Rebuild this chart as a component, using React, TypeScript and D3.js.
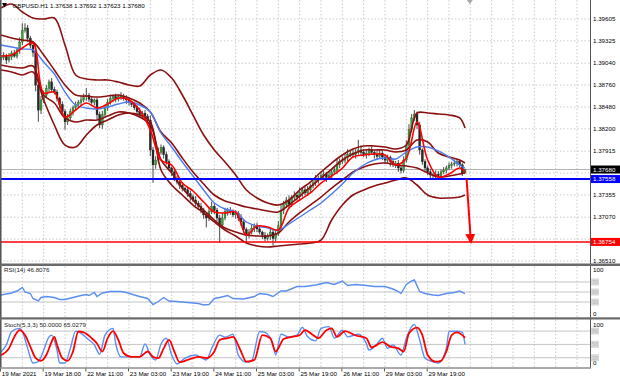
import React from 'react';
import * as d3 from 'd3';

const W = 620, H = 382;

// ---------- price data (H1 bars) ----------
const firstOpen = 1.3908;
const closes = [
  1.3911,1.3914,1.3908,1.3912,1.3917,1.3913,1.3921,1.3931,1.3946,1.3949,1.3936,1.3927,1.3918,1.3876,1.3844,1.3857,1.3863,1.3872,1.3880,1.3870,1.3867,1.3859,1.3851,1.3842,1.3829,
  1.3834,1.3842,1.3847,1.3851,1.3854,1.3857,1.3861,1.3863,1.3858,1.3854,1.3857,1.3838,1.3825,1.3838,1.3847,1.3854,1.3859,1.3861,1.3858,1.3861,1.3862,1.3859,1.3857,1.3854,1.3851,
  1.3847,1.3842,1.3838,1.3840,1.3836,1.3831,1.3793,1.3774,1.3780,1.3790,1.3796,1.3787,1.3778,1.3770,1.3765,1.3757,1.3752,1.3748,1.3744,1.3742,1.3737,1.3733,1.3729,1.3725,1.3721,
  1.3716,1.3710,1.3706,1.3714,1.3721,1.3716,1.3706,1.3697,1.3706,1.3714,1.3716,1.3714,1.3710,1.3712,1.3706,1.3701,1.3691,1.3684,1.3688,1.3693,1.3696,1.3692,1.3688,1.3684,1.3680,
  1.3683,1.3688,1.3680,1.3686,1.3696,1.3716,1.3723,1.3729,1.3724,1.3732,1.3735,1.3733,1.3739,1.3742,1.3738,1.3742,1.3747,1.3751,1.3755,1.3757,1.3760,1.3762,1.3758,1.3761,1.3765,
  1.3767,1.3774,1.3778,1.3780,1.3783,1.3787,1.3789,1.3787,1.3790,1.3793,1.3790,1.3787,1.3789,1.3793,1.3790,1.3787,1.3785,1.3789,1.3784,1.3780,1.3783,1.3778,1.3774,1.3776,1.3770,
  1.3767,1.3780,1.3799,1.3819,1.3834,1.3839,1.3825,1.3793,1.3778,1.3770,1.3765,1.3761,1.3760,1.3762,1.3760,1.3765,1.3767,1.3770,1.3773,1.3775,1.3776,1.3778,1.3774,1.37638,1.37680,
];
// wick lengths in pips above max(open,close) and below min(open,close)
const hiWick = [
  3,4,2,5,3,4,3,6,9,6,4,3,5,3,4,5,6,4,3,5,4,3,2,4,3,
  5,4,3,4,3,5,4,9,3,4,2,3,4,5,3,4,5,3,4,3,5,3,4,3,2,
  4,3,5,3,4,3,6,4,5,6,4,3,4,3,2,4,3,3,4,2,3,4,3,5,3,
  4,3,2,5,6,4,3,4,6,5,3,4,3,4,3,5,2,3,4,5,3,4,3,2,4,
  3,5,3,4,6,8,5,4,6,3,5,4,6,3,4,5,3,4,6,3,5,4,3,5,4,
  6,8,4,5,6,7,3,5,4,13,6,4,5,3,4,3,5,4,3,3,4,3,5,3,4,
  3,5,6,7,5,5,3,4,2,3,3,4,3,5,4,3,4,3,4,3,5,4,3,2,1,
];
const loWick = [
  4,3,5,3,4,2,3,5,4,3,5,4,6,8,15,5,4,3,5,4,3,4,5,4,10,
  4,3,5,4,3,4,3,5,4,3,4,6,4,5,3,4,3,5,4,3,4,3,5,4,3,
  3,4,3,5,4,5,8,23,5,4,3,5,4,3,5,4,3,5,4,3,4,5,3,4,5,
  4,5,12,4,3,5,4,23,4,3,5,4,3,5,4,5,4,9,4,3,5,4,3,5,4,
  3,5,9,4,3,4,5,4,6,4,3,5,4,6,3,4,5,3,4,5,3,4,6,3,4,
  3,5,4,3,4,5,3,4,5,3,4,3,5,4,3,5,4,3,4,5,4,6,3,4,5,
  4,3,3,4,3,4,5,6,4,5,4,5,3,4,3,4,3,4,3,4,3,4,3,4,1,
];

// ---------- indicator lines, read every 4 bars ----------
const sampleBars = [...d3.range(0, 173, 4), 174];
const fastMA = [1.39132,1.39145,1.39234,1.39298,1.38659,1.38671,1.38352,1.38441,1.38531,1.38467,1.38518,1.38595,1.38569,1.38441,1.38185,1.37802,1.37738,1.37507,1.37405,1.37264,1.37137,1.37124,1.37137,1.36842,1.36957,1.36945,1.36906,1.37188,1.37290,1.37380,1.37507,1.37597,1.37699,1.37840,1.37866,1.37878,1.37866,1.37738,1.37827,1.38288,1.37802,1.37584,1.37623,1.37699,1.37648];
const slowMA = [1.39272,1.39247,1.39221,1.39209,1.39055,1.38902,1.38671,1.38505,1.38467,1.38454,1.38479,1.38518,1.38543,1.38505,1.38416,1.38147,1.37968,1.37776,1.37597,1.37418,1.37252,1.37175,1.37137,1.37009,1.36957,1.36932,1.36906,1.36983,1.37073,1.37162,1.37252,1.37367,1.37495,1.37635,1.37738,1.37802,1.37827,1.37814,1.37904,1.37968,1.37968,1.37917,1.37840,1.37738,1.37699];
const outerUpper = [1.39746,1.39797,1.39695,1.39618,1.39605,1.39618,1.39272,1.38889,1.38838,1.38825,1.38825,1.38799,1.38761,1.38748,1.38889,1.38953,1.38850,1.38633,1.38377,1.38121,1.37930,1.37776,1.37610,1.37418,1.37316,1.37252,1.37226,1.37290,1.37418,1.37520,1.37648,1.37763,1.37866,1.37942,1.37981,1.37981,1.37968,1.37942,1.37993,1.38403,1.38403,1.38390,1.38377,1.38339,1.38211];
const outerLower = [1.38953,1.38927,1.38889,1.38927,1.38569,1.38249,1.37993,1.37968,1.38121,1.38249,1.38313,1.38377,1.38403,1.38377,1.38288,1.37674,1.37482,1.37354,1.37226,1.37124,1.37009,1.36906,1.36830,1.36740,1.36702,1.36689,1.36702,1.36714,1.36727,1.36740,1.36778,1.37034,1.37226,1.37354,1.37418,1.37469,1.37507,1.37546,1.37571,1.37482,1.37354,1.37316,1.37316,1.37328,1.37354];
const innerUpper = [1.39400,1.39362,1.39336,1.39311,1.39145,1.38953,1.38761,1.38633,1.38620,1.38607,1.38620,1.38633,1.38595,1.38531,1.38416,1.38160,1.38019,1.37827,1.37648,1.37495,1.37354,1.37277,1.37239,1.37200,1.37175,1.37149,1.37137,1.37226,1.37341,1.37456,1.37571,1.37686,1.37802,1.37878,1.37930,1.37930,1.37930,1.37904,1.37930,1.38057,1.38032,1.37891,1.37840,1.37802,1.37763];
const innerLower = [1.39017,1.38991,1.38978,1.39004,1.38633,1.38531,1.38339,1.38288,1.38313,1.38313,1.38364,1.38416,1.38403,1.38352,1.38249,1.37802,1.37635,1.37443,1.37290,1.37162,1.37034,1.36932,1.36881,1.36842,1.36830,1.36830,1.36868,1.37009,1.37124,1.37226,1.37328,1.37443,1.37546,1.37648,1.37712,1.37750,1.37763,1.37738,1.37725,1.37699,1.37635,1.37584,1.37597,1.37623,1.37635];

// ---------- RSI(14) ----------
const rsiBars = [0,2,4,6,8,9,11,12,14,15,17,20,22,24,27,30,32,33,35,36,38,41,45,47,50,52,55,57,59,61,63,66,70,74,76,78,80,82,85,87,91,95,97,100,102,105,107,111,114,118,122,125,128,130,133,137,140,144,147,149,150,152,154,155,157,159,162,164,167,170,172,174];
const rsiValues = [44,46,48,52,59,50,47,37,32,39,41,39,35,35,39,43,45,43,49,41,48,51,51,49,44,41,37,25,31,39,32,31,29,27,24,25,37,39,43,37,36,41,47,45,41,52,52,61,61,64,69,65,72,63,65,63,61,61,56,51,47,65,72,74,51,47,44,43,47,49,52,46.8];

// ---------- Stochastic(5,3,3) ----------
const stochKBars = [0,2,4,7,8,10,12,14,16,18,19,21,22,24,26,28,30,33,35,37,39,42,43,45,48,52,54,56,58,60,62,64,66,69,73,77,79,82,84,87,89,92,94,97,99,102,103,105,108,111,113,115,118,120,123,125,128,130,134,137,138,141,143,145,147,150,152,154,155,157,159,162,164,167,168,171,173,174];
const stochK = [33,49,79,86,79,41,8,11,37,67,71,37,8,8,41,80,75,60,49,28,71,86,52,22,22,22,51,26,15,51,64,26,6,19,26,15,41,71,66,73,26,10,13,79,77,49,26,73,67,71,88,67,58,86,90,64,82,67,73,52,37,51,64,41,49,26,64,90,95,60,19,11,8,41,79,80,77,50];
const stochDBars = [0,3,5,7,9,11,13,15,17,19,20,21,23,25,27,29,31,34,36,38,40,42,44,46,49,52,55,57,59,61,63,65,67,70,74,77,80,82,85,87,90,92,95,98,101,103,106,109,112,114,117,119,122,124,126,129,133,137,139,141,143,146,149,151,153,156,158,160,163,165,167,169,171,174];
const stochD = [26,41,67,82,71,45,19,13,26,56,67,49,19,13,34,79,77,64,52,34,64,80,60,30,22,22,34,22,19,41,60,34,10,15,22,19,34,60,64,67,34,11,15,71,64,34,62,67,71,82,71,64,82,86,67,80,70,64,43,49,55,45,41,34,75,88,71,26,11,13,34,71,77,65];

// ---------- axes / annotations ----------
const priceTicks = [1.39605,1.39325,1.39040,1.38760,1.38480,1.38200,1.37915,1.37635,1.37355,1.37070,1.36790,1.36510];
const priceDomain = [1.36510, 1.39605];
const timeLabels = ['19 Mar 2021','19 Mar 18:00','22 Mar 11:00','23 Mar 03:00','23 Mar 19:00','24 Mar 11:00','25 Mar 03:00','25 Mar 19:00','26 Mar 11:00','29 Mar 03:00','29 Mar 19:00'];
const barsPerLabel = 16;
const barsPerGrid = 8;
const rsiLevels = [70, 50, 30];
const stochLevels = [80, 50, 20];
const bidPrice = 1.37680;
const supportLevel = 1.37558;
const targetLevel = 1.36754;
const header = { symbol: 'GBPUSD.H1', o: '1.37638', h: '1.37692', l: '1.37623', c: '1.37680' };
const rsiTitle = 'RSI(14) 46.8076';
const stochTitle = 'Stoch(5,3,3) 50.0000 65.0279';
const arrowFrom = { bar: 174.6, price: supportLevel };
const arrowTo = { bar: 176.2, price: targetLevel };

const FONT = '"Liberation Sans", Arial, sans-serif';

export default function App() {
  const plotRight = 590;
  const mainTop = 0, mainBottom = 263;
  const rsiTop = 266.5, rsiBottom = 317;
  const stTop = 320, stBottom = 367.5;

  const x = d3.scaleLinear().domain([0, 220]).range([1, 1 + 220 * 2.6667]);
  const y = d3.scaleLinear().domain(priceDomain).range([261, 19]);
  const yR = d3.scaleLinear().domain([0, 100]).range([317, 267]);
  const yS = d3.scaleLinear().domain([0, 100]).range([366.6, 322.2]);

  const candles = closes.map((c, i) => {
    const o = i === 0 ? firstOpen : closes[i - 1];
    const hi = Math.max(o, c) + hiWick[i] * 0.0001;
    const lo = Math.min(o, c) - loWick[i] * 0.0001;
    return { i, o, c, hi, lo };
  });

  const smooth = d3.line<[number, number]>().x(d => x(d[0])).y(d => y(d[1])).curve(d3.curveCatmullRom.alpha(0.5));
  const pts = (arr: number[]) => sampleBars.map((b, k) => [b, arr[k]] as [number, number]);

  const rsiLine = d3.line<number>().x((_, k) => x(rsiBars[k])).y(v => yR(v)).curve(d3.curveLinear);
  const kLine = d3.line<number>().x((_, k) => x(stochKBars[k])).y(v => yS(v)).curve(d3.curveMonotoneX);
  const dLine = d3.line<number>().x((_, k) => x(stochDBars[k])).y(v => yS(v)).curve(d3.curveMonotoneX);

  const gridBars = d3.range(0, 220, barsPerGrid).filter(b => x(b) < plotRight - 2);
  const gridColor = '#c9c9c9';

  const boxLabels = [
    { p: bidPrice, bg: '#000000', fg: '#ffffff' },
    { p: supportLevel, bg: '#0000ff', fg: '#ffffff' },
    { p: targetLevel, bg: '#ff0000', fg: '#ffffff' },
  ];
  const visibleTicks = priceTicks.filter(t => boxLabels.every(b => Math.abs(y(t) - y(b.p)) > 7));

  const ax = x(arrowFrom.bar), ay = y(arrowFrom.price);
  const bx = x(arrowTo.bar), by = y(arrowTo.price);

  return (
    <svg width={W} height={H} style={{ position: 'absolute', left: 0, top: 0, background: '#fff' }} fontFamily={FONT}>
      <defs>
        <clipPath id="mainClip"><rect x={0} y={mainTop} width={plotRight} height={mainBottom - mainTop} /></clipPath>
        <marker id="arrowHead" viewBox="0 0 10 10" refX="8" refY="5" markerWidth="5" markerHeight="5" orient="auto">
          <path d="M0,0 L10,5 L0,10 z" fill="#ff0000" />
        </marker>
      </defs>
      <rect x={0} y={0} width={W} height={H} fill="#ffffff" />

      {/* vertical grid */}
      {gridBars.map(b => (
        <g key={'vg' + b}>
          <line x1={x(b)} x2={x(b)} y1={mainTop} y2={mainBottom} stroke={gridColor} strokeDasharray="1.5 2" />
          <line x1={x(b)} x2={x(b)} y1={rsiTop} y2={rsiBottom} stroke={gridColor} strokeDasharray="1.5 2" />
          <line x1={x(b)} x2={x(b)} y1={stTop} y2={stBottom} stroke={gridColor} strokeDasharray="1.5 2" />
        </g>
      ))}
      {/* horizontal price grid */}
      {priceTicks.map(t => (
        <line key={'hg' + t} x1={0} x2={plotRight} y1={y(t)} y2={y(t)} stroke={gridColor} strokeDasharray="1.5 2" />
      ))}
      {/* current price line */}
      <line x1={0} x2={plotRight} y1={y(bidPrice)} y2={y(bidPrice)} stroke="#b4b4b4" strokeWidth={1} />

      <g clipPath="url(#mainClip)">
        {/* candles */}
        {candles.map(d => {
          const cx = x(d.i);
          const bull = d.c >= d.o;
          const top = y(Math.max(d.o, d.c));
          const bot = y(Math.min(d.o, d.c));
          return (
            <g key={'c' + d.i}>
              <line x1={cx} x2={cx} y1={y(d.hi)} y2={y(d.lo)} stroke="#333333" strokeWidth={0.9} />
              <rect x={cx - 0.95} y={top} width={1.9} height={Math.max(0.8, bot - top)}
                fill={bull ? '#3f9f3a' : '#262626'} stroke={bull ? '#2d5f2a' : '#1a1a1a'} strokeWidth={0.4} />
            </g>
          );
        })}
        {/* bands */}
        {[outerUpper, outerLower, innerUpper, innerLower].map((arr, k) => (
          <path key={'bb' + k} d={smooth(pts(arr)) || ''} fill="none" stroke="#8b1010" strokeWidth={1.6} />
        ))}
        <path d={smooth(pts(slowMA)) || ''} fill="none" stroke="#4a7cf0" strokeWidth={1.4} />
        <path d={smooth(pts(fastMA)) || ''} fill="none" stroke="#ff0000" strokeWidth={1.6} />
      </g>

      {/* horizontal levels */}
      <line x1={0} x2={plotRight} y1={y(supportLevel)} y2={y(supportLevel)} stroke="#0000ff" strokeWidth={2} />
      <line x1={0} x2={plotRight} y1={y(targetLevel)} y2={y(targetLevel)} stroke="#ff0000" strokeWidth={1.5} />
      {/* arrow */}
      <line x1={ax} y1={ay} x2={bx} y2={by} stroke="#ff0000" strokeWidth={2} markerEnd="url(#arrowHead)" />

      {/* chart shift marker */}
      <path d={`M${x(175.8) - 3},0 L${x(175.8) + 3},0 L${x(175.8)},4 z`} fill="#a8a8a8" />

      {/* header */}
      <path d="M2,3 L7,3 L4.5,7.5 z" fill="#000" />
      <text x={12.5} y={8.2} fontSize={6.2} fill="#000">
        {`${header.symbol}  ${header.o} ${header.h} ${header.l} ${header.c}`}
      </text>

      {/* price axis labels */}
      {visibleTicks.map(t => (
        <text key={'pt' + t} x={593} y={y(t) + 2.2} fontSize={6.2} fill="#000">{t.toFixed(5)}</text>
      ))}
      {boxLabels.map(b => (
        <g key={'bx' + b.p}>
          <rect x={591} y={y(b.p) - 4} width={29} height={8} fill={b.bg} />
          <text x={593} y={y(b.p) + 2.2} fontSize={6.2} fill={b.fg}>{b.p.toFixed(5)}</text>
        </g>
      ))}

      {/* RSI panel */}
      {rsiLevels.map(l => (
        <line key={'rl' + l} x1={0} x2={plotRight} y1={yR(l)} y2={yR(l)} stroke="#c4c4c4" strokeWidth={1} />
      ))}
      <path d={rsiLine(rsiValues) || ''} fill="none" stroke="#5a8ef0" strokeWidth={1.4} />
      <text x={4} y={272} fontSize={6.2} fill="#222">{rsiTitle}</text>
      <text x={593} y={yR(100) + 5} fontSize={6.2} fill="#000">100</text>
      <text x={593} y={yR(0) - 1.5} fontSize={6.2} fill="#000">0</text>
      {rsiLevels.map(l => (
        <g key={'rlb' + l}>
          <rect x={591} y={yR(l) - 3.5} width={8} height={7} fill="#d9d9d9" />
          <text x={592} y={yR(l) + 2} fontSize={5.5} fill="#bcbcbc">{l}</text>
        </g>
      ))}

      {/* Stochastic panel */}
      {stochLevels.map(l => (
        <line key={'sl' + l} x1={0} x2={plotRight} y1={yS(l)} y2={yS(l)} stroke="#c4c4c4" strokeWidth={1} />
      ))}
      <path d={kLine(stochK) || ''} fill="none" stroke="#5a8ef0" strokeWidth={1.4} />
      <path d={dLine(stochD) || ''} fill="none" stroke="#ff0000" strokeWidth={1.8} />
      <text x={4} y={327} fontSize={6.2} fill="#222">{stochTitle}</text>
      <text x={593} y={yS(100) + 4.5} fontSize={6.2} fill="#000">100</text>
      <text x={593} y={yS(0) - 1.2} fontSize={6.2} fill="#000">0</text>
      {stochLevels.map(l => (
        <g key={'slb' + l}>
          <rect x={591} y={yS(l) - 3.5} width={8} height={7} fill="#d9d9d9" />
          <text x={592} y={yS(l) + 2} fontSize={5.5} fill="#bcbcbc">{l}</text>
        </g>
      ))}

      {/* frame & separators */}
      <rect x={0} y={0} width={1.5} height={stBottom} fill="#555" />
      <line x1={plotRight + 0.5} x2={plotRight + 0.5} y1={0} y2={stBottom} stroke="#555" strokeWidth={1} />
      <rect x={0} y={263.5} width={W} height={2.5} fill="#6a6a6a" />
      <rect x={0} y={317.3} width={W} height={2.2} fill="#6a6a6a" />
      <line x1={0} x2={plotRight + 1} y1={stBottom + 0.5} y2={stBottom + 0.5} stroke="#555" strokeWidth={1} />

      {/* time axis */}
      {timeLabels.map((t, k) => {
        const tx = x(k * barsPerLabel);
        return (
          <g key={'tl' + k}>
            <line x1={tx - 0.5} x2={tx - 0.5} y1={stBottom + 1} y2={stBottom + 4} stroke="#333" strokeWidth={0.8} />
            <text x={tx + 0.8} y={375.5} fontSize={6.2} fill="#000">{t}</text>
          </g>
        );
      })}
    </svg>
  );
}
